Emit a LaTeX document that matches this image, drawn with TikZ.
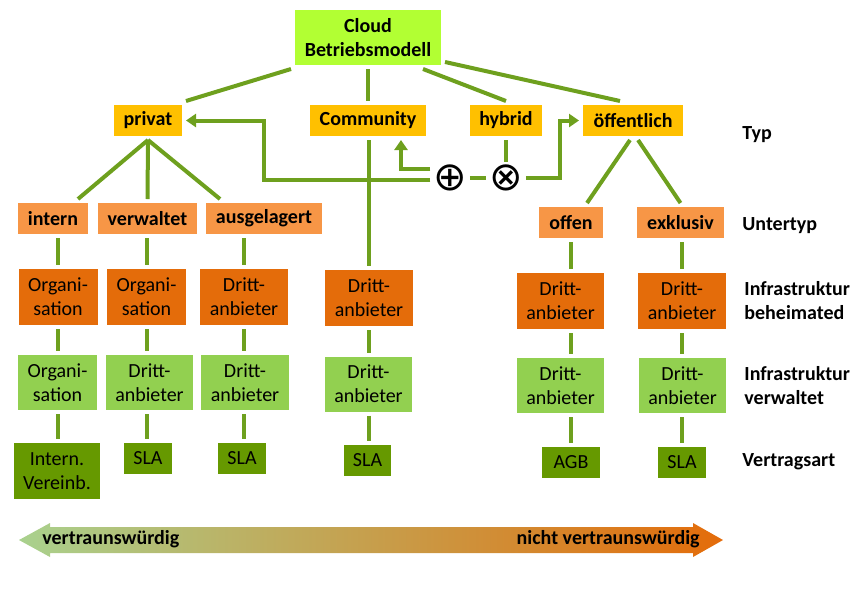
\documentclass[tikz,border=0pt]{standalone}
\usepackage{fontspec}
\setmainfont{Carlito}
\newfontfamily\opfont{DejaVu Sans}
\usepackage{tikz}
\usetikzlibrary{positioning,arrows.meta,calc}
\definecolor{cloudgreen}{RGB}{178,255,51}
\definecolor{typorange}{RGB}{255,192,0}
\definecolor{untertyporange}{RGB}{247,150,70}
\definecolor{heimorange}{RGB}{228,108,10}
\definecolor{verwgreen}{RGB}{146,208,80}
\definecolor{vertraggreen}{RGB}{102,153,0}
\definecolor{linegreen}{RGB}{110,160,30}
\definecolor{trustgreen}{RGB}{169,209,142}
\definecolor{trustmid}{RGB}{203,168,108}
\tikzset{box/.style={
        rectangle,
        fill=#1,
        inner sep=1pt,
        outer sep=2pt,
        align=center,
        text=black},
        top/.style={box=cloudgreen,font=\bfseries,minimum height=27.5pt},
        typ/.style={box=typorange,font=\bfseries,minimum height=15.5pt},
        untertyp/.style={box=untertyporange,font=\bfseries,minimum height=15.5pt},
        heim/.style={box=heimorange,minimum height=28pt},
        verw/.style={box=verwgreen,minimum height=27.5pt},
        vertrag/.style={box=vertraggreen,minimum height=15.5pt}
        }
\tikzset{op/.style={rectangle,inner sep=0pt,minimum size=12pt,outer sep=1.5pt,font=\opfont\fontsize{20}{20}\selectfont},
        legende/.style={anchor=west,align=left,font=\bfseries,inner sep=0pt}}
\tikzstyle{conn}  = [draw=linegreen,line width=2pt]
\tikzstyle{pfeil} = [conn,-{Triangle[length=5pt,width=6.5pt]}]

\begin{document}
\begin{tikzpicture}[x=0.5pt,y=-0.5pt]
		\useasboundingbox (0,0) rectangle (854,590);

		\node[top,minimum width=73pt] (cloud) at (368,37.5) {Cloud\\Betriebsmodell};

		\node[typ,minimum width=34pt] (privat) at (148,120.5) {privat};
		\node[typ,minimum width=58pt] (community) at (368,120.5) {Community};
		\node[typ,minimum width=36pt] (hybrid) at (506,120.5) {hybrid};
		\node[typ,minimum width=50pt] (oeff) at (633,120.5) {öffentlich};

		\node[untertyp,minimum width=35pt] (intern) at (53,218.5) {intern};
		\node[untertyp,minimum width=49.5pt] (verwaltet) at (147.5,218.5) {verwaltet};
		\node[untertyp,minimum width=58pt] (ausgelagert) at (264,218.5) {ausgelagert};
		\node[untertyp,minimum width=32pt] (offen) at (571,222.5) {offen};
		\node[untertyp,minimum width=43.5pt] (exklusiv) at (680.5,222.5) {exklusiv};

		\node[heim,minimum width=39.5pt] (heim1) at (58,297) {Organi-\\sation};
		\node[heim,minimum width=39.5pt] (heim2) at (146.5,297) {Organi-\\sation};
		\node[heim,minimum width=44pt] (heim3) at (244,297) {Dritt-\\anbieter};
		\node[heim,minimum width=44pt] (heim4) at (369,298) {Dritt-\\anbieter};
		\node[heim,minimum width=43.5pt] (heim5) at (560.5,301) {Dritt-\\anbieter};
		\node[heim,minimum width=44pt] (heim6) at (682,301) {Dritt-\\anbieter};

		\node[verw,minimum width=39.5pt] (verw1) at (57.5,382.5) {Organi-\\sation};
		\node[verw,minimum width=43.5pt] (verw2) at (149.5,382.5) {Dritt-\\anbieter};
		\node[verw,minimum width=44pt] (verw3) at (245,382.5) {Dritt-\\anbieter};
		\node[verw,minimum width=43.5pt] (verw4) at (368.5,384) {Dritt-\\anbieter};
		\node[verw,minimum width=43.5pt] (verw5) at (560.5,385.5) {Dritt-\\anbieter};
		\node[verw,minimum width=43.5pt] (verw6) at (682.5,385.5) {Dritt-\\anbieter};

		\node[vertrag,minimum width=43pt,minimum height=28pt] (vert1) at (57,471) {Intern.\\Vereinb.};
		\node[vertrag,minimum width=24pt] (vert2) at (148,458.5) {SLA};
		\node[vertrag,minimum width=24pt] (vert3) at (242,458.5) {SLA};
		\node[vertrag,minimum width=23.5pt] (vert4) at (367.5,460) {SLA};
		\node[vertrag,minimum width=29pt] (vert5) at (571,462.5) {AGB};
		\node[vertrag,minimum width=24pt] (vert6) at (682,462.5) {SLA};

		\node[op] (oplus) at (450,178) {⊕};
		\node[op] (otimes) at (506,178) {⊗};

		\node[legende] (lTyp) at (742,135) {Typ};
		\node[legende] (lUntertyp) at (742,226) {Untertyp};
		\node[legende] (lHeim) at (744,301) {Infrastruktur\\beheimated};
		\node[legende] (lVerw) at (744,386) {Infrastruktur\\verwaltet};
		\node[legende] (lVertrag) at (742,462) {Vertragsart};

		\draw[conn] (cloud.south west) -- (privat.north east);
		\draw[conn] (cloud.south) -- (community.north);
		\draw[conn] ([xshift=-11pt]cloud.south east) -- (hybrid.north);
		\draw[conn] ([yshift=3.5pt]cloud.south east) -- ([xshift=-6.5pt]oeff.north);

		\draw[conn] (privat.south) -- ([xshift=-7pt]intern.north east);
		\draw[conn] (privat.south) -- (verwaltet.north);
		\draw[conn] (privat.south) -- ([xshift=9pt]ausgelagert.north west);
		\draw[conn] ([xshift=-1.5pt]oeff.south) -- ([xshift=8pt]offen.north);
		\draw[conn] ([xshift=2.5pt]oeff.south) -- (exklusiv.north);

		\foreach \oben/\achse/\n in {intern/heim1/1,verwaltet/heim2/2,ausgelagert/heim3/3,community/heim4/4,offen/vert5/5,exklusiv/heim6/6}{
				\draw[conn] (\achse.center |- \oben.south) -- (\achse.center |- heim\n.north);
				\draw[conn] (\achse.center |- heim\n.south) -- (\achse.center |- verw\n.north);
				\draw[conn] (\achse.center |- verw\n.south) -- (\achse.center |- vert\n.north);
			}

		\draw[conn] (hybrid.south) -- (otimes.north);
		\draw[conn] (oplus.east) -- (otimes.west);
		\draw[pfeil] (otimes.east) -| ([xshift=-9.5pt]oeff.west) -- (oeff.west);
		\draw[pfeil] ([yshift=4.5pt]oplus.west) -| ([xshift=16.5pt]community.south);
		\draw[pfeil] ([yshift=-1pt]oplus.west) -| ([xshift=39pt]privat.east) -- (privat.east);

		\shade[left color=trustgreen,middle color=trustmid,right color=heimorange]
			(19,540) -- (50,523) -- (50,527) -- (693,527) -- (693,523) -- (723,540)
			-- (693,557) -- (693,553) -- (50,553) -- (50,557) -- cycle;
		\node[font=\bfseries,anchor=west,inner sep=0pt] (trust) at (42,539) {vertraunswürdig};
		\node[font=\bfseries,anchor=east,inner sep=0pt] (notrust) at (700,539) {nicht vertraunswürdig};
	\end{tikzpicture}
\end{document}
